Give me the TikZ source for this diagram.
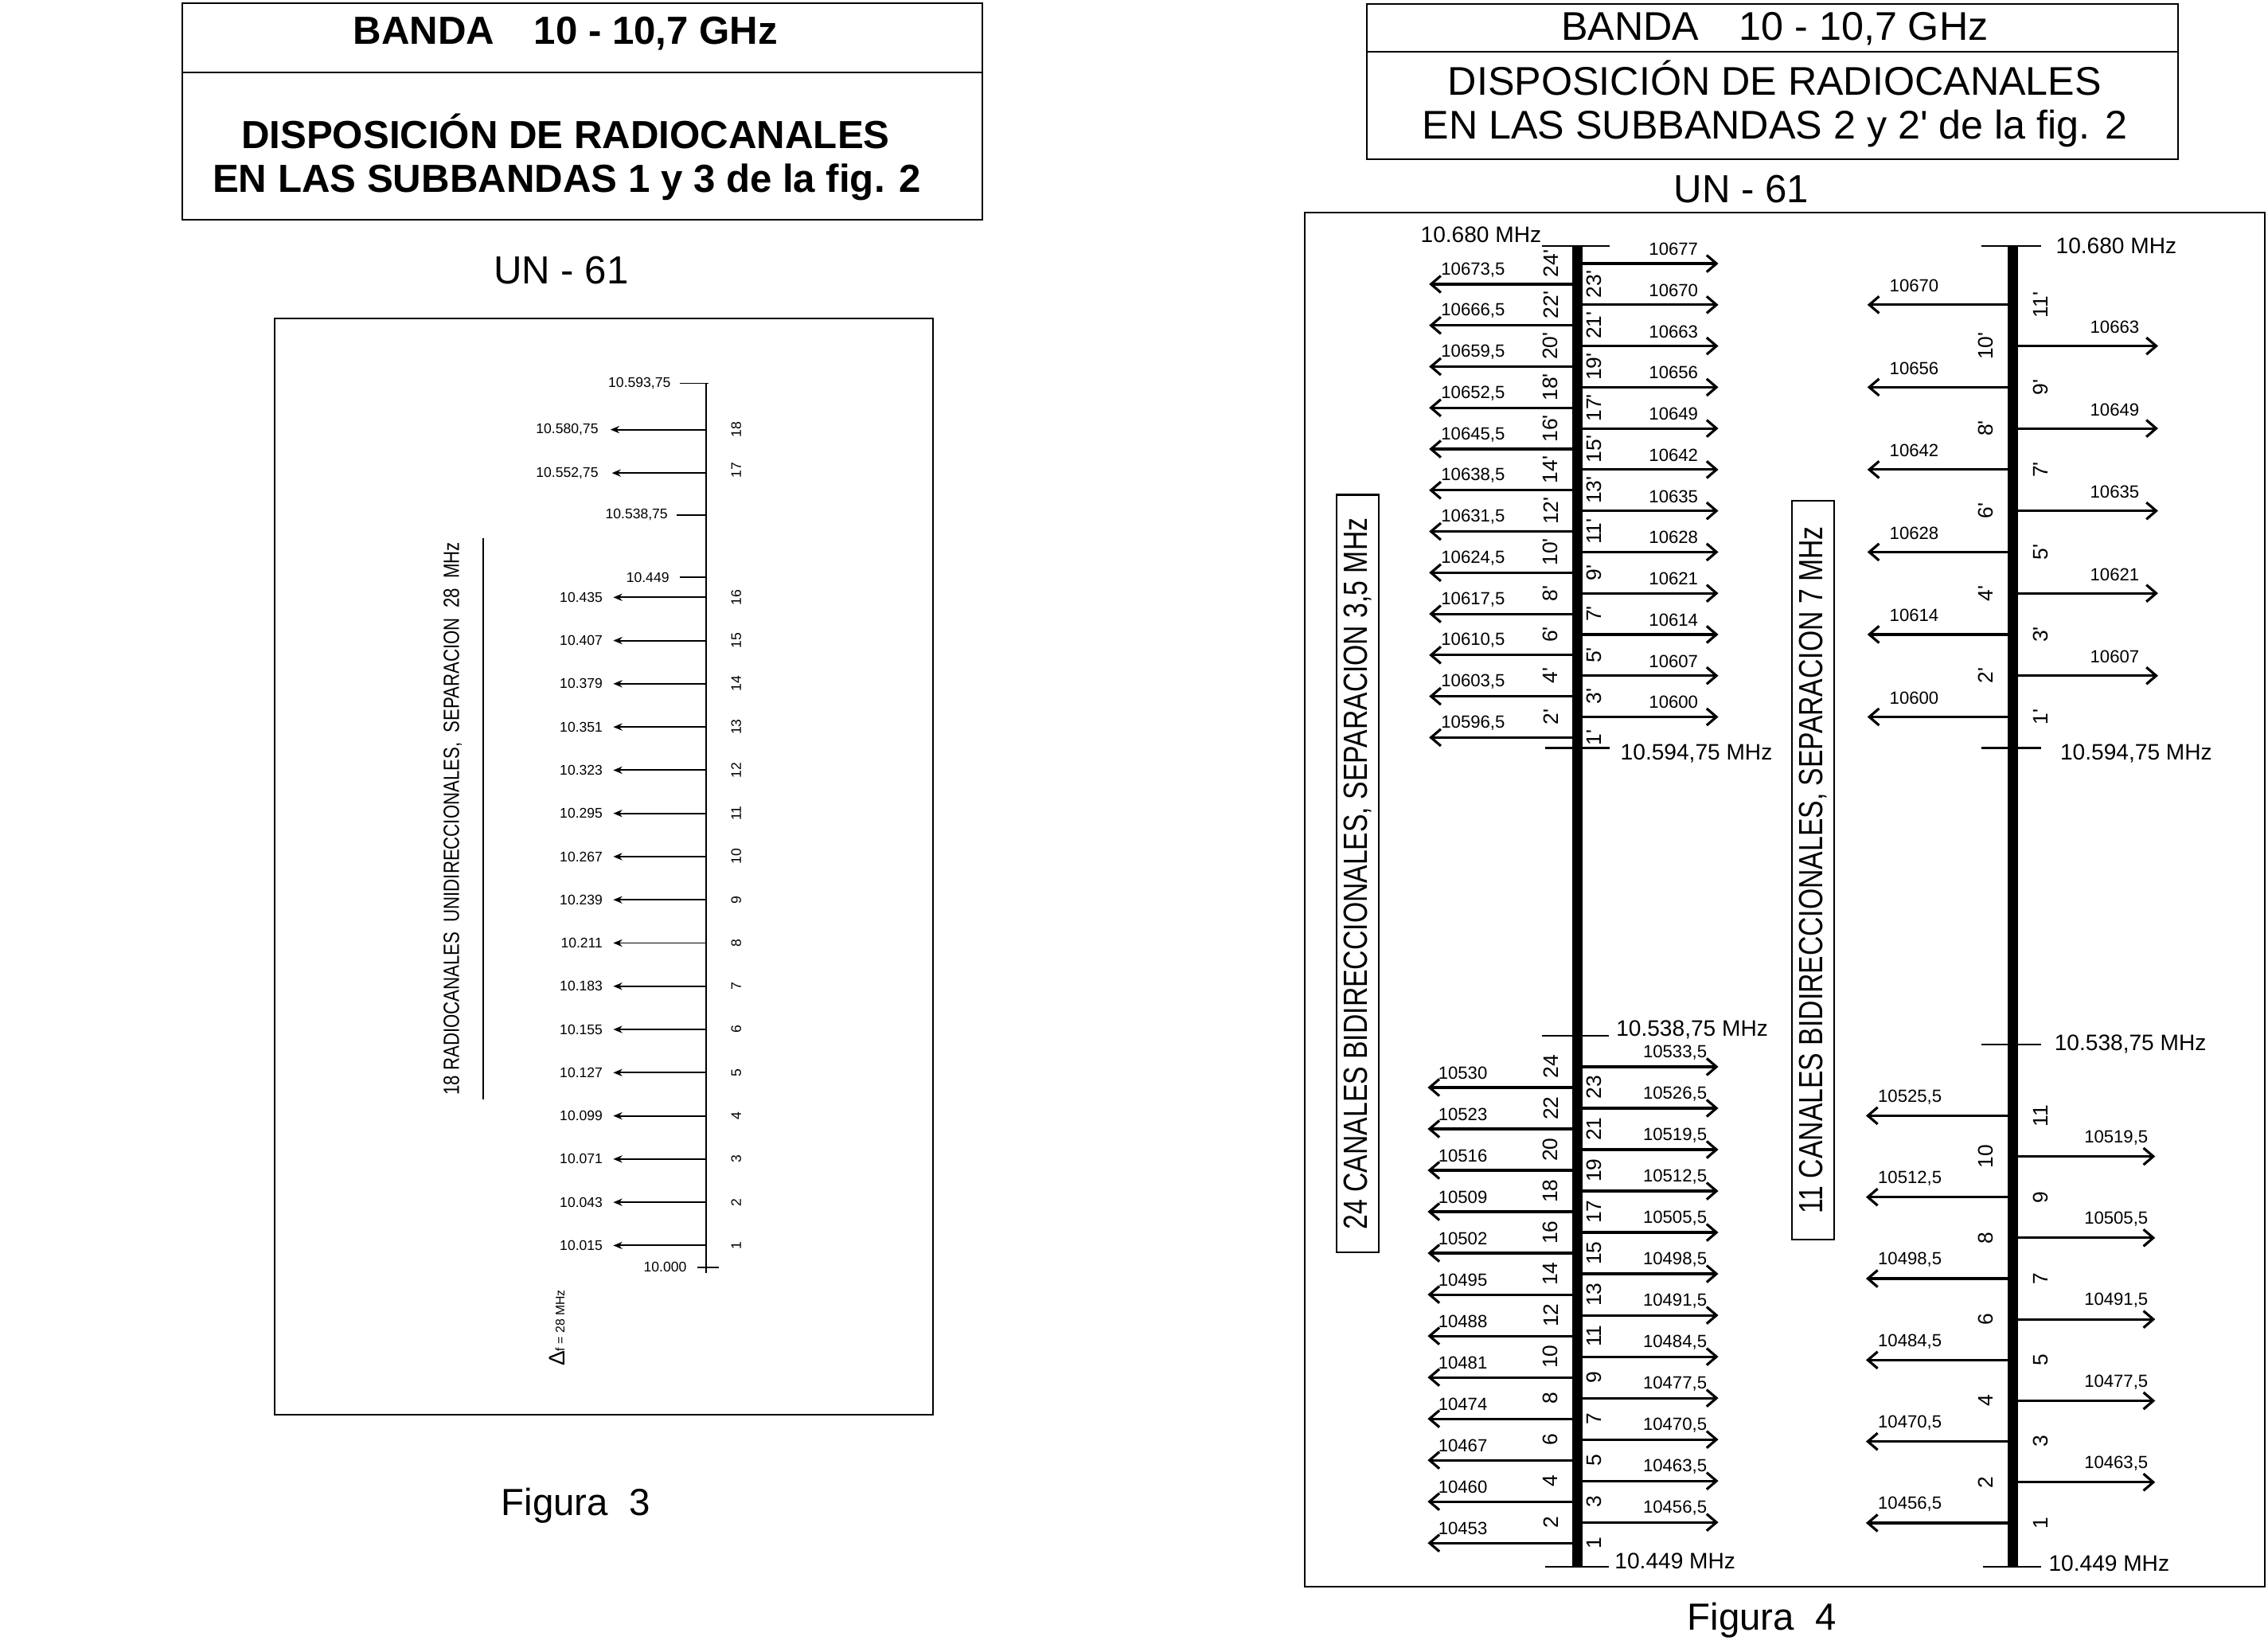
\documentclass[tikz,border=0pt]{standalone}
\usepackage{fontspec}
\setmainfont{Liberation Sans}
\newfontfamily\narrowfont{Liberation Sans}[FakeStretch=0.8]
\usetikzlibrary{arrows.meta}
\newcommand\pr{\textquotesingle}
\newcommand\fnum[1]{\pgfmathprintnumber[fixed,precision=1,use comma,set thousands separator={},assume math mode=true]{#1}}
\begin{document}
\begin{tikzpicture}[x=0.01817cm,y=-0.01817cm,
  frame/.style={draw=black,line width=0.6pt},
  hdrL/.style={font=\fontsize{14}{16}\selectfont\bfseries,inner sep=0pt},
  hdrR/.style={font=\fontsize{14.3}{16}\selectfont,inner sep=0pt},
  unn/.style={font=\fontsize{14}{16}\selectfont,inner sep=0pt},
  capt/.style={font=\fontsize{13.5}{16}\selectfont,inner sep=0pt},
  tlab/.style={font=\fontsize{5}{6}\selectfont,inner sep=0pt},
  tnum/.style={font=\fontsize{5}{6}\selectfont,inner sep=0pt,rotate=90},
  axthin/.style={line width=0.55pt},
  arrT/.style={line width=0.55pt,-{Stealth[length=3.2pt,width=2.6pt]}},
  bar/.style={line width=3.6pt},
  tickln/.style={line width=0.7pt},
  arrB/.style={line width=0.9pt,-{Straight Barb[length=3.5pt,width=6pt]}},
  flab/.style={font=\fontsize{6.3}{7}\selectfont,inner sep=0pt},
  chl/.style={font=\fontsize{7.5}{8}\selectfont,inner sep=0pt,rotate=90},
  mhz/.style={font=\fontsize{8}{9}\selectfont,inner sep=0pt},
  vbox/.style={draw,line width=0.6pt,rotate=90,inner sep=0pt,font=\narrowfont\fontsize{12}{13}\selectfont,minimum height=0.527cm}
]
\fill[white] (0,0) rectangle (1568,1136);
\useasboundingbox (0,0) rectangle (1568,1136);

% ---------------- Left: Figura 3 ----------------
\draw[frame] (126,2) rectangle (679,152);
\draw[frame] (126,50) -- (679,50);
\node[hdrL] (lh1) at (391,23) {BANDA\quad 10 - 10,7 GHz};
\node[hdrL] (lh2) at (391,91) {DISPOSICIÓN DE RADIOCANALES};
\node[hdrL] (lh3) at (392,126) {EN LAS SUBBANDAS 1 y 3 de la fig. 2};
\node[unn] (lun) at (388,187) {UN - 61};
\draw[frame] (190,220) rectangle (645,978);
\node[capt] (lcap) at (398,1041) {Figura\ \ 3};

\coordinate (axT) at (488,265);
\coordinate (axB) at (488,880);
\draw[axthin] (axT) -- (axB);

\coordinate (tA1) at (470,265); \coordinate (tA2) at (490,265);
\draw[axthin] (tA1) -- (tA2);
\node[tlab,anchor=east] (tAl) at (464,265) {10.593,75};
\coordinate (tB1) at (468,356); \coordinate (tB2) at (488,356);
\draw[axthin] (tB1) -- (tB2);
\node[tlab,anchor=east] (tBl) at (462,356) {10.538,75};
\coordinate (tC1) at (470,399); \coordinate (tC2) at (488,399);
\draw[axthin] (tC1) -- (tC2);
\node[tlab,anchor=east] (tCl) at (463,399) {10.449};
\coordinate (tD1) at (482,876); \coordinate (tD2) at (497,876);
\draw[axthin] (tD1) -- (tD2);
\node[tlab,anchor=east] (tDl) at (475,876) {10.000};

\foreach \n/\lab in {1/10.015,2/10.043,3/10.071,4/10.099,5/10.127,6/10.155,7/10.183,8/10.211,
  9/10.239,10/10.267,11/10.295,12/10.323,13/10.351,14/10.379,15/10.407,16/10.435}{
  \pgfmathsetmacro\yy{861-(\n-1)*29.87}
  \coordinate (fa\n) at (488,\yy);
  \coordinate (fb\n) at (424,\yy);
  \draw[arrT] (fa\n) -- (fb\n);
  \node[tlab,anchor=east] (fl\n) at (417,\yy) {\lab};
  \node[tnum] (fn\n) at (509,\yy) {\n};
}
\coordinate (fa17) at (488,327); \coordinate (fb17) at (423,327);
\draw[arrT] (fa17) -- (fb17);
\node[tlab,anchor=east] (fl17) at (414,327) {10.552,75};
\node[tnum] (fn17) at (509,325) {17};
\coordinate (fa18) at (488,297); \coordinate (fb18) at (422,297);
\draw[arrT] (fa18) -- (fb18);
\node[tlab,anchor=east] (fl18) at (414,297) {10.580,75};
\node[tnum] (fn18) at (509,297) {18};

\node[font=\narrowfont\fontsize{7.9}{9}\selectfont,rotate=90,inner sep=0pt] (ltitle) at (313,566)
  {18 RADIOCANALES\ \ UNIDIRECCIONALES,\ \ SEPARACION\ \ 28\ \ MHz};
\coordinate (ulA) at (334,372); \coordinate (ulB) at (334,760);
\draw[axthin] (ulA) -- (ulB);
\node[rotate=90,inner sep=0pt] (df) at (385,918)
  {{\fontsize{8}{9}\selectfont Δ}{\fontsize{4.5}{5}\selectfont f = 28 MHz}};

% ---------------- Right: Figura 4 ----------------
\draw[frame] (945,3) rectangle (1506,110);
\draw[frame] (945,36) -- (1506,36);
\node[hdrR] (rh1) at (1227,20) {BANDA\quad 10 - 10,7 GHz};
\node[hdrR] (rh2) at (1227,54) {DISPOSICIÓN DE RADIOCANALES};
\node[hdrR] (rh3) at (1227,89) {EN LAS SUBBANDAS 2 y 2\pr{} de la fig. 2};
\node[unn] (run) at (1204,131) {UN - 61};
\draw[frame] (902,147) rectangle (1566,1097);
\node[capt] (rcap) at (1218,1120) {Figura\ \ 4};

\node[vbox,minimum width=9.52cm] (v24) at (938.5,604) {24 CANALES BIDIRECCIONALES, SEPARACION 3,5 MHz};
\node[vbox,minimum width=9.285cm] (v11) at (1253.5,601.5) {11 CANALES BIDIRECCIONALES, SEPARACION 7 MHz};

% axis bars
\coordinate (b1T) at (1090.5,170); \coordinate (b1B) at (1090.5,1083);
\draw[bar] (b1T) -- (b1B);
\coordinate (b2T) at (1391.5,170); \coordinate (b2B) at (1391.5,1083);
\draw[bar] (b2T) -- (b2B);

% ticks 24 canales
\coordinate (k1a) at (1066,170); \coordinate (k1b) at (1113,170);
\draw[tickln] (k1a) -- (k1b);
\node[mhz,anchor=south east] (k1l) at (1066,168) {10.680 MHz};
\coordinate (k2a) at (1068,517); \coordinate (k2b) at (1113,517);
\draw[tickln] (k2a) -- (k2b);
\node[mhz,anchor=west] (k2l) at (1120,521) {10.594,75 MHz};
\coordinate (k3a) at (1066,716); \coordinate (k3b) at (1112,716);
\draw[tickln] (k3a) -- (k3b);
\node[mhz,anchor=west] (k3l) at (1117,712) {10.538,75 MHz};
\coordinate (k4a) at (1068,1083); \coordinate (k4b) at (1112,1083);
\draw[tickln] (k4a) -- (k4b);
\node[mhz,anchor=west] (k4l) at (1116,1079) {10.449 MHz};

% ticks 11 canales
\coordinate (m1a) at (1370,170); \coordinate (m1b) at (1411,170);
\draw[tickln] (m1a) -- (m1b);
\node[mhz,anchor=west] (m1l) at (1421,170) {10.680 MHz};
\coordinate (m2a) at (1370,517); \coordinate (m2b) at (1411,517);
\draw[tickln] (m2a) -- (m2b);
\node[mhz,anchor=west] (m2l) at (1424,521) {10.594,75 MHz};
\coordinate (m3a) at (1370,722); \coordinate (m3b) at (1411,722);
\draw[tickln] (m3a) -- (m3b);
\node[mhz,anchor=west] (m3l) at (1420,722) {10.538,75 MHz};
\coordinate (m4a) at (1371,1083); \coordinate (m4b) at (1411,1083);
\draw[tickln] (m4a) -- (m4b);
\node[mhz,anchor=west] (m4l) at (1416,1081) {10.449 MHz};

% 24 canales, upper (primed)
\foreach \k in {1,...,24}{
  \pgfmathsetmacro\ff{10593+3.5*\k}
  \pgfmathsetmacro\yy{170+(10680-\ff)*4.07}
  \ifodd\k\relax
    \coordinate (ua\k) at (1090,\yy);
    \coordinate (ub\k) at (988,\yy);
    \node[flab,anchor=west] (ut\k) at (996,{\yy-10}) {\fnum{\ff}};
    \node[chl] (uc\k) at (1102,\yy) {\k\pr};
  \else
    \coordinate (ua\k) at (1091,\yy);
    \coordinate (ub\k) at (1188,\yy);
    \node[flab] (ut\k) at (1157,{\yy-10}) {\fnum{\ff}};
    \node[chl] (uc\k) at (1072,\yy) {\k\pr};
  \fi
  \draw[arrB] (ua\k) -- (ub\k);
}
% 24 canales, lower
\foreach \k in {1,...,24}{
  \pgfmathsetmacro\ff{10449.5+3.5*\k}
  \pgfmathsetmacro\yy{716+(10538.75-\ff)*4.09}
  \ifodd\k\relax
    \coordinate (la\k) at (1090,\yy);
    \coordinate (lb\k) at (987,\yy);
    \node[flab,anchor=west] (lt\k) at (994,{\yy-10}) {\fnum{\ff}};
    \node[chl] (lc\k) at (1102,\yy) {\k};
  \else
    \coordinate (la\k) at (1091,\yy);
    \coordinate (lb\k) at (1188,\yy);
    \node[flab] (lt\k) at (1158,{\yy-10}) {\fnum{\ff}};
    \node[chl] (lc\k) at (1072,\yy) {\k};
  \fi
  \draw[arrB] (la\k) -- (lb\k);
}
% 11 canales, upper (primed)
\foreach \k in {1,...,11}{
  \pgfmathsetmacro\ff{10593+7*\k}
  \pgfmathsetmacro\yy{170+(10680-\ff)*4.07}
  \ifodd\k\relax
    \coordinate (sa\k) at (1391,\yy);
    \coordinate (sb\k) at (1291,\yy);
    \node[flab,anchor=west] (st\k) at (1306,{\yy-13}) {\fnum{\ff}};
    \node[chl] (sc\k) at (1411,\yy) {\k\pr};
  \else
    \coordinate (sa\k) at (1392,\yy);
    \coordinate (sb\k) at (1492,\yy);
    \node[flab] (st\k) at (1462,{\yy-13}) {\fnum{\ff}};
    \node[chl] (sc\k) at (1373,\yy) {\k\pr};
  \fi
  \draw[arrB] (sa\k) -- (sb\k);
}
% 11 canales, lower
\foreach \k in {1,...,11}{
  \pgfmathsetmacro\ff{10449.5+7*\k}
  \pgfmathsetmacro\yy{722+(10538.75-\ff)*4.022}
  \ifodd\k\relax
    \coordinate (qa\k) at (1391,\yy);
    \coordinate (qb\k) at (1290,\yy);
    \node[flab,anchor=west] (qt\k) at (1298,{\yy-13}) {\ifnum\k=11 10525,5\else\fnum{\ff}\fi};
    \node[chl] (qc\k) at (1411,\yy) {\k};
  \else
    \coordinate (qa\k) at (1392,\yy);
    \coordinate (qb\k) at (1490,\yy);
    \node[flab] (qt\k) at (1463,{\yy-13}) {\fnum{\ff}};
    \node[chl] (qc\k) at (1373,\yy) {\k};
  \fi
  \draw[arrB] (qa\k) -- (qb\k);
}
\end{tikzpicture}
\end{document}
